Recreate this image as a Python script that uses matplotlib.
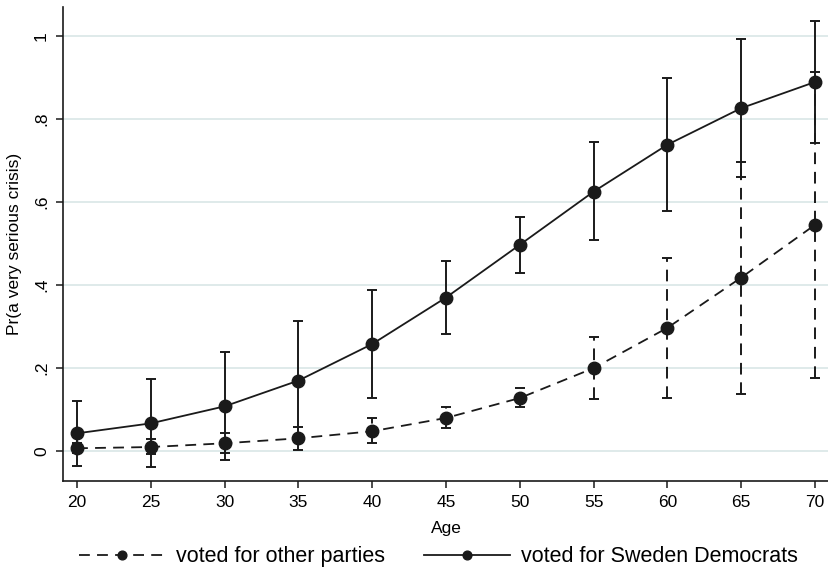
import matplotlib.pyplot as plt
import numpy as np

plt.rcParams['font.family'] = ['Liberation Sans', 'DejaVu Sans']

age = [20, 25, 30, 35, 40, 45, 50, 55, 60, 65, 70]

# predicted probabilities with 95% CI
sd_pr = [0.043, 0.067, 0.108, 0.170, 0.258, 0.370, 0.497, 0.625, 0.738, 0.826, 0.889]
sd_lo = [-0.036, -0.039, -0.022, 0.028, 0.128, 0.282, 0.430, 0.508, 0.578, 0.660, 0.742]
sd_hi = [0.120, 0.173, 0.239, 0.313, 0.388, 0.458, 0.565, 0.745, 0.898, 0.993, 1.036]

oth_pr = [0.007, 0.010, 0.019, 0.031, 0.048, 0.080, 0.128, 0.200, 0.297, 0.418, 0.545]
oth_lo = [-0.005, -0.007, -0.005, 0.002, 0.019, 0.055, 0.106, 0.125, 0.128, 0.137, 0.176]
oth_hi = [0.019, 0.029, 0.043, 0.058, 0.080, 0.106, 0.152, 0.275, 0.466, 0.697, 0.914]

col = '#1a1a1a'

fig = plt.figure(figsize=(8.29, 5.70), dpi=100)
ax = fig.add_axes([0.076, 0.156, 0.924, 0.832])

def draw(pr, lo, hi, dashed):
    pr = np.array(pr); lo = np.array(lo); hi = np.array(hi)
    yerr = [pr - lo, hi - pr]
    cont = ax.errorbar(age, pr, yerr=yerr, color=col, ecolor=col, lw=1.3,
                       elinewidth=1.4, capsize=3.8, capthick=1.4,
                       marker='o', ms=9, zorder=3)
    line = cont.lines[0]
    if dashed:
        line.set_dashes((6, 4))
        for bc in cont.lines[2]:
            bc.set_linestyle((0, (6, 4)))
    return line

h_oth = draw(oth_pr, oth_lo, oth_hi, True)
h_sd = draw(sd_pr, sd_lo, sd_hi, False)

ax.set_xlim(19.05, 70.95)
ax.set_ylim(-0.072, 1.07)
ax.set_xticks(age)
ax.set_yticks([0, 0.2, 0.4, 0.6, 0.8, 1.0])
ax.set_yticklabels(['0', '.2', '.4', '.6', '.8', '1'], rotation=90, va='center')
ax.tick_params(labelsize=12.5, length=5, width=1.1, color=col, pad=5)
ax.grid(axis='y', color='#dce8e8', lw=1.3)
ax.set_axisbelow(True)
for s in ['top', 'right']:
    ax.spines[s].set_visible(False)
for s in ['left', 'bottom']:
    ax.spines[s].set_linewidth(1.2)
    ax.spines[s].set_color(col)

ax.set_xlabel('Age', fontsize=12.5, va='center')
ax.xaxis.set_label_coords(0.5, -0.099)
ax.set_ylabel('Pr(a very serious crisis)', fontsize=12.5, va='center')
ax.yaxis.set_label_coords(-0.0627, 0.5)

fig.legend([h_oth, h_sd], ['voted for other parties', 'voted for Sweden Democrats'],
           loc='center', bbox_to_anchor=(0.529, 0.023), ncol=2, frameon=False,
           fontsize=15.5, handlelength=4.0, columnspacing=1.8, handletextpad=0.5,
           borderpad=0, markerscale=0.7)

fig.savefig('out.png', dpi=100)
